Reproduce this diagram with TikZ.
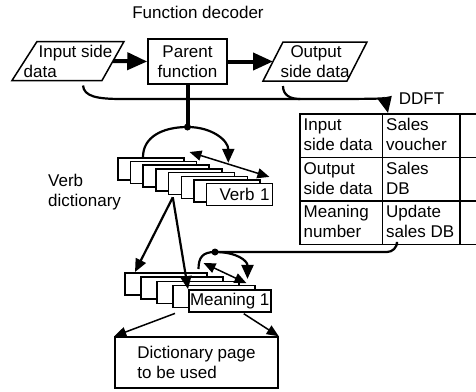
\documentclass[tikz,border=0pt]{standalone}
\usepackage{fontspec}
\setmainfont{Liberation Sans}
\usepackage{array}
\usetikzlibrary{arrows.meta,calc}
\setlength{\tabcolsep}{3pt}
\setlength{\arrayrulewidth}{1.5pt}
\setlength{\extrarowheight}{2pt}

\begin{document}
\begin{tikzpicture}[x=1pt,y=-1pt,
  every node/.style={font=\fontsize{17}{20}\selectfont},
  box/.style={draw,line width=1.5pt,fill=white,inner sep=1pt},
  frame/.style={line width=1.5pt,line join=miter},
  card/.style={draw,line width=1.5pt,fill=white,anchor=north west,inner sep=1pt},
  bigarrow/.style={line width=4pt,-{Triangle[length=20pt,width=17pt]}},
  flow/.style={line width=2.2pt},
  link/.style={line width=1.5pt,-{Triangle[length=12pt,width=10pt]}},
  twoway/.style={line width=1.5pt,{Triangle[length=12pt,width=10pt]}-{Triangle[length=12pt,width=10pt]}},
  dlink/.style={line width=2.2pt,-{Triangle[length=13pt,width=11pt]}},
  swing/.style={line width=2.2pt,-{Triangle[length=14pt,width=12pt]}}]

\useasboundingbox (0,0) rectangle (476,391);

% Title
\node (title) [anchor=base] at (198,18) {Function decoder};

% Data and parent function
\coordinate (in-tl) at (37,41.5);
\coordinate (in-tr) at (124,41.5);
\coordinate (in-br) at (102,80.5);
\coordinate (in-bl) at (12,80.5);
\draw[frame] (in-tl) -- (in-tr) -- (in-br) -- (in-bl) -- cycle;
\node (in) [align=left, inner sep=0pt] at (68,61) {\hspace*{15pt}Input side\\data};

\coordinate (out-tl) at (283,42);
\coordinate (out-tr) at (367,42);
\coordinate (out-br) at (347,81);
\coordinate (out-bl) at (263,81);
\draw[frame] (out-tl) -- (out-tr) -- (out-br) -- (out-bl) -- cycle;
\node (out) [align=left, inner sep=0pt] at (315,61.5) {\hspace*{10pt}Output\\side data};

\node (parent) [box, minimum width=79pt, minimum height=45pt, align=center]
  at (187.5,61.5) {Parent\\function};

\draw[bigarrow] ($(in-tr)!0.5!(in-br)$) -- (parent.west);
\draw[bigarrow] (parent.east) -- ($(out-tl)!0.5!(out-bl)$);

% DDFT
\node (ddftlabel) [anchor=base] at (421.5,104) {DDFT};
\node (ddft) [anchor=north west, inner sep=0pt] at (299,113) {%
  \begin{tabular}{|p{75pt}|p{70pt}|p{40pt}}
    \hline
    Input\newline side data & Sales\newline voucher & \\
    \hline
    Output\newline side data & Sales\newline DB & \\
    \hline
    Meaning\newline number & Update\newline sales DB & \\
    \hline
  \end{tabular}};

\coordinate (bend) at (122,99);
\coordinate (join) at (300,99);
\draw[flow] ($(in-br)+(-19,5)$) .. controls +(1,11) and +(-25,0) .. (bend)
  -- (join);
\draw[flow] ($(out-bl)+(20,5)$) .. controls +(0,9) and +(-10,0) .. (join);
\draw[flow,-{Triangle[length=16pt,width=14pt]}] (join)
  .. controls +(55,0) and +(-3,-14) .. ($(ddft.north west)+(89,0)$);

% Verb dictionary
\node (verbdict) [anchor=north west, align=left, inner sep=0pt] at (48,174) {Verb\\dictionary};
\foreach \i in {0,...,6}
  \node (v\i) [card, minimum width=66pt, minimum height=22pt] at (117+12.7*\i,157+3.7*\i) {};
\node (v7) [card, minimum width=66pt, minimum height=22pt, text width=60pt, align=right]
  at (205.9,182.9) {Verb 1};

\coordinate (vdot) at (187.5,127);
\coordinate (vleft) at ($(v0.north west)+(26,0)$);
\coordinate (vright) at ($(v4.north east)+(-7,-9)$);
\draw[line width=4pt] (parent.south) -- (vdot);
\fill (vdot) circle (3.5pt);
\draw[flow] (vleft) .. controls +(0,-20) and +(-25,0) .. (vdot);
\draw[swing] (vdot) .. controls +(25,0) and +(0,-22) .. (vright);
\draw[twoway] ($(v0.north east)+(5,-5)$) -- ($(v7.north east)+(-4,-6)$);

% Meaning stack
\foreach \i in {0,...,3}
  \node (m\i) [card, minimum width=82pt, minimum height=22pt] at (124+16*\i,272+4.3*\i) {};
\node (m4) [card, minimum width=82pt, minimum height=22pt, inner sep=0.5pt] at (188,289.2) {Meaning 1};

\coordinate (vfoot) at ($(v4.south west)+(5,2)$);
\draw[dlink] (vfoot) -- ($(m0.north west)+(11,0)$);
\draw[dlink] (vfoot) -- (m4.north west);

\coordinate (mdot) at (215,252);
\coordinate (mleft) at ($(m0.north east)+(-9,-3)$);
\coordinate (mright) at ($(m3.north east)+(-8,-6)$);
\draw[flow, rounded corners=10pt] ($(ddft.south west)+(98,0)$) |- (mdot);
\fill (mdot) circle (3.5pt);
\draw[flow] (mleft) .. controls +(0,-12) and +(-12,0) .. (mdot);
\draw[swing] (mdot) .. controls +(22,0) and +(0,-18) .. (mright);
\draw[twoway] ($(m0.north east)+(-4,-9)$) -- ($(m4.north east)+(-25,-6)$);

% Dictionary page
\node (page) [box, minimum width=163pt, minimum height=51pt, align=left]
  at (196.5,362.5) {Dictionary page\\to be used};
\draw[link] ($(m3.south west)+(3,5)$) -- (page.north west);
\draw[link] ($(m4.south)+(14,1)$) -- (page.north east);

\end{tikzpicture}
\end{document}
